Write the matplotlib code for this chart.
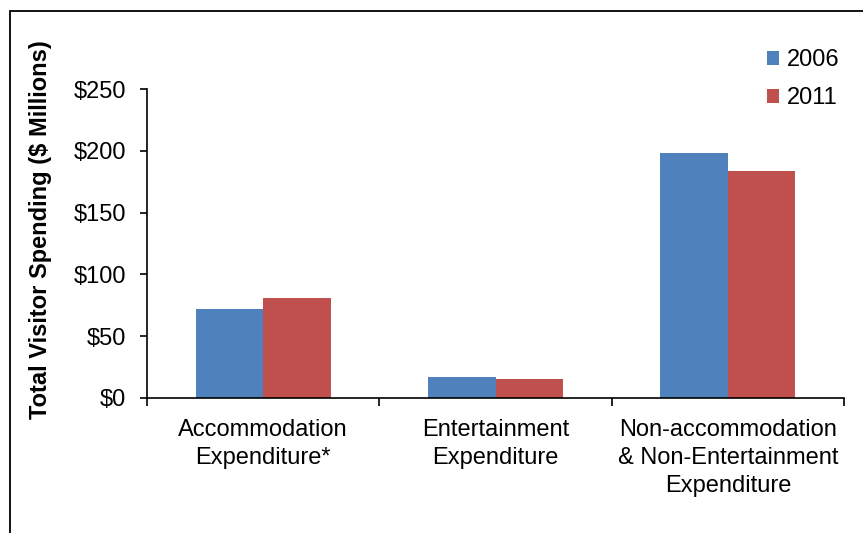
import matplotlib

matplotlib.use("Agg")
import matplotlib.pyplot as plt
import numpy as np
from matplotlib.patches import Rectangle

plt.rcParams["font.family"] = ["Liberation Sans", "DejaVu Sans"]

categories = [
    "Accommodation\nExpenditure*",
    "Entertainment\nExpenditure",
    "Non-accommodation\n& Non-Entertainment\nExpenditure",
]
series_names = ["2006", "2011"]
spend_2006 = [72, 17, 198]
spend_2011 = [81, 15, 184]
y_ticks = [0, 50, 100, 150, 200, 250]
y_tick_labels = ["$0", "$50", "$100", "$150", "$200", "$250"]

BLUE = "#4F81BD"
RED = "#C0504D"
W, H = 863, 533
FS = 17

fig = plt.figure(figsize=(W / 100, H / 100), dpi=100)
ax = fig.add_axes([147 / W, (H - 398) / H, (844 - 147) / W, (398 - 89) / H])

x = np.arange(len(categories))
bw = 0.29
ax.bar(x - bw / 2, spend_2006, width=bw, color=BLUE, label=series_names[0])
ax.bar(x + bw / 2, spend_2011, width=bw, color=RED, label=series_names[1])

ax.set_xlim(-0.5, len(categories) - 0.5)
ax.set_ylim(0, 250)
ax.set_yticks(y_ticks)
ax.set_yticklabels(y_tick_labels, fontsize=FS)
ax.tick_params(axis="y", direction="out", length=5, width=1.2, pad=10)

# category boundaries as major ticks, labels at centres as minor ticks
ax.set_xticks(np.arange(len(categories) + 1) - 0.5)
ax.set_xticklabels([])
ax.tick_params(axis="x", which="major", direction="out", length=6, width=1.2)
ax.set_xticks(x, minor=True)
ax.set_xticklabels(categories, minor=True, fontsize=FS, linespacing=1.35)
ax.tick_params(axis="x", which="minor", length=0, pad=15)

for side in ("top", "right"):
    ax.spines[side].set_visible(False)
for side in ("left", "bottom"):
    ax.spines[side].set_linewidth(1.2)

ax.set_ylabel("Total Visitor Spending ($ Millions)", fontsize=FS,
              fontweight="bold")
ax.yaxis.set_label_coords(-(147 - 52) / (844 - 147), (398 - 230) / (398 - 89))

fig.legend(loc="upper left", bbox_to_anchor=(746 / W, 1 - 28 / H),
           frameon=False, fontsize=FS, handlelength=0.5, handleheight=0.5,
           handletextpad=0.35, labelspacing=0.68)

# outer frame (clipped by image on right and bottom)
fig.patches.append(Rectangle((10 / W, -0.2), 1.2, 1.2 - 11 / H,
                             transform=fig.transFigure, fill=False,
                             edgecolor="black", linewidth=1.3))

fig.savefig("out.png", dpi=100)
